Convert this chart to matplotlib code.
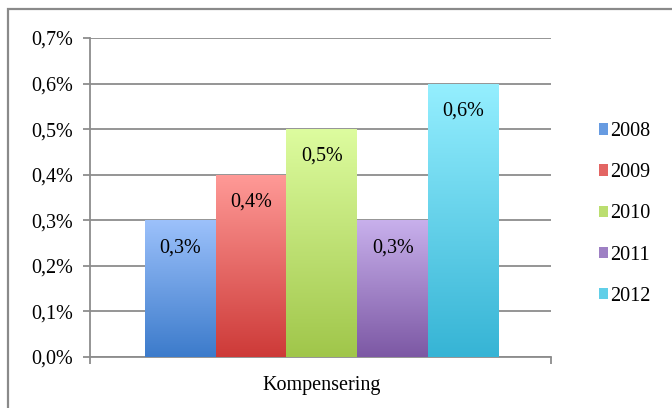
import matplotlib.pyplot as plt
import numpy as np
from matplotlib.colors import to_rgb
from matplotlib.patches import Rectangle

# chart data
category = "Kompensering"
years = ["2008", "2009", "2010", "2011", "2012"]
values = [0.3, 0.4, 0.5, 0.3, 0.6]          # percent
yticks = [0.0, 0.1, 0.2, 0.3, 0.4, 0.5, 0.6, 0.7]

# light (top) / dark (bottom) gradient colours per series
top_colors = ["#9cc1fb", "#ff9a97", "#ddfc9f", "#c8b0ec", "#95efff"]
bottom_colors = ["#3c7bcb", "#cd3a38", "#a0c64a", "#7c58a4", "#36b4d5"]

plt.rcParams['font.family'] = ['Liberation Serif', 'DejaVu Serif']
plt.rcParams['font.size'] = 14.5

W, H = 672, 408
fig = plt.figure(figsize=(W / 100, H / 100), dpi=100)

# outer chart frame (cut off on right and bottom like the screenshot)
fig.patches.append(Rectangle((8 / W, -0.1), 1.2, (H - 9) / H + 0.1,
                             transform=fig.transFigure, fill=False,
                             edgecolor="#8a8a8a", linewidth=1.6))

ax = fig.add_axes([90 / W, (H - 357) / H, (551 - 90) / W, (357 - 38) / H])

width = 0.1537
center = 0.503
grid_col = "#8c8c8c"


def blend(c1, c2, t):
    a, b = np.array(to_rgb(c1)), np.array(to_rgb(c2))
    return a * (1 - t) + b * t


for i, (yr, v) in enumerate(zip(years, values)):
    x0 = center + (i - 2.5) * width
    bar = ax.bar(x0, v, width=width, align="edge", color=bottom_colors[i],
                 linewidth=0, zorder=2, label=yr)[0]
    # vertical gradient clipped to the bar
    t = np.linspace(0, 1, 256)[:, None]
    c1 = np.array(to_rgb(top_colors[i]))
    c2 = np.array(to_rgb(bottom_colors[i]))
    grad = (c1 * (1 - t) + c2 * t)[:, None, :].repeat(2, axis=1)
    im = ax.imshow(grad, extent=(x0, x0 + width, 0, v), aspect="auto",
                   origin="upper", zorder=3)
    im.set_clip_path(bar)
    lbl = f"{v:.1f}%".replace(".", ",")
    ax.text(x0 + width / 2, v - 0.06, lbl, ha="center", va="center",
            fontsize=14.5, zorder=4)

ax.set_xlim(0, 1)
ax.set_ylim(0, 0.7)
ax.set_yticks(yticks)
ax.set_yticklabels([f"{y:.1f}%".replace(".", ",") for y in yticks])
ax.set_xticks([center])
ax.set_xticklabels([category])
ax.set_xticks([0, 1], minor=True)
ax.tick_params(axis="x", which="major", length=0, pad=14)
ax.tick_params(axis="x", which="minor", length=5, color=grid_col, width=1.3)
ax.tick_params(axis="y", length=5, color=grid_col, width=1.3, pad=7)

ax.yaxis.grid(True, color=grid_col, linewidth=1.3, zorder=0)
ax.set_axisbelow(True)
for side in ["top", "right"]:
    ax.spines[side].set_visible(False)
for side in ["left", "bottom"]:
    ax.spines[side].set_color(grid_col)
    ax.spines[side].set_linewidth(1.3)

# legend swatches use the mid tone of each gradient
handles = [Rectangle((0, 0), 1, 1, facecolor=blend(top_colors[i], bottom_colors[i], 0.55),
                     edgecolor="none") for i in range(len(years))]
leg = fig.legend(handles, years, loc="upper left",
                 bbox_to_anchor=(585 / W, (H - 108) / H), frameon=False,
                 handlelength=0.45, handleheight=0.5, handletextpad=0.12,
                 labelspacing=1.1, fontsize=14.5, borderpad=0.2)

fig.savefig("out.png", dpi=100)
